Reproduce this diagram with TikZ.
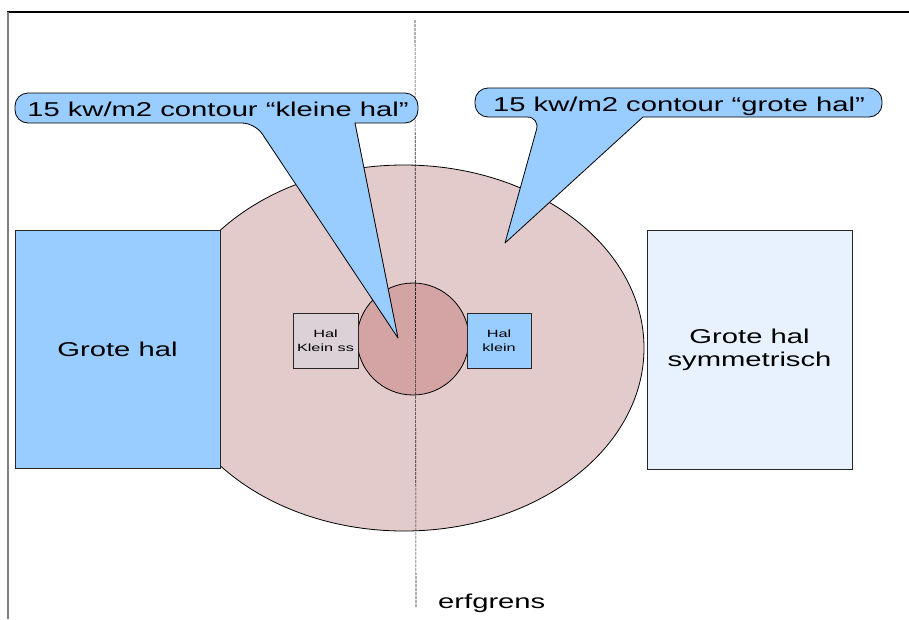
\documentclass[tikz,border=0pt]{standalone}
\usepackage{fontspec}
\setmainfont{Liberation Sans}
\usetikzlibrary{shapes.geometric}
\definecolor{callblue}{HTML}{99CCFF}
\definecolor{zonepink}{HTML}{E3CBCB}
\definecolor{corepink}{HTML}{D4A4A4}
\definecolor{ssgray}{HTML}{DCD1D7}
\definecolor{paleblue}{HTML}{E8F2FE}
\newcommand{\wide}[1]{\scalebox{1.46}[1]{#1}}
\newcommand{\widesm}[1]{\scalebox{1.55}[1]{#1}}
\tikzset{
  hall/.style={draw=black!85, line width=0.9pt, inner sep=0pt, align=center},
  bigtext/.style={font=\fontsize{20}{23}\selectfont, inner sep=0pt, align=center},
  smalltext/.style={font=\fontsize{10.5}{13.5}\selectfont, inner sep=0pt, align=center},
  callout/.style={fill=callblue, draw=black, line width=0.8pt, line join=round},
  boundary/.style={draw=black!85, line width=0.6pt, dash pattern=on 3pt off 1pt},
}
\begin{document}
\begin{tikzpicture}[x=1pt,y=-1pt]
\useasboundingbox (0,0) rectangle (909,619);
% frame
\coordinate (ftl) at (7,12);
\coordinate (ftr) at (909,12);
\coordinate (fbl) at (8,619);
\draw[black, line width=1.3pt] (ftl) -- (ftr);
\draw[black!50, line width=2pt] (8,12) -- (fbl);
% zones
\node[ellipse, fill=zonepink, draw=black, line width=0.8pt, minimum width=480pt, minimum height=366pt, inner sep=0pt] (zone) at (404,348) {};
\node[circle, fill=corepink, draw=black, line width=0.8pt, minimum size=112pt, inner sep=0pt] (core) at (413,339) {};
% small halls
\node[hall, fill=ssgray, minimum width=65pt, minimum height=55pt] (hks) at (325.5,340.5) {};
\node[smalltext] (hkst) at (hks) {\widesm{Hal}\\\widesm{Klein ss}};
\node[hall, fill=callblue, minimum width=64pt, minimum height=55pt] (hk) at (499,340.5) {};
\node[smalltext] (hkt) at (hk) {\widesm{Hal}\\\widesm{klein}};
% big halls
\node[hall, fill=callblue, minimum width=205pt, minimum height=238pt] (gh) at (117.5,349) {};
\node[bigtext] (ght) at (gh) {\wide{Grote hal}};
\node[hall, fill=paleblue, minimum width=205pt, minimum height=239pt] (ghs) at (749.5,349.5) {};
\node[bigtext] (ghst) at (ghs) {\wide{Grote hal}\\\wide{symmetrisch}};
% boundary
\coordinate (btop) at (415,20);
\coordinate (bbot) at (416,607);
\draw[boundary] (btop) -- (bbot);
\node[bigtext, anchor=base west] (erf) at (438,608) {\wide{erfgrens}};
% callout left
\coordinate (tipL) at (398,338);
\draw[callout] (200,93) [rounded corners=13pt] -- (15,93) -- (15,123) -- (255,123) [sharp corners] -- (tipL) -- (355,123) [rounded corners=13pt] -- (418,123) -- (418,93) -- cycle;
\node[bigtext, anchor=base] (cL) at (218,116) {\wide{15 kw/m2 contour “kleine hal”}};
% callout right
\coordinate (tipR) at (505,243);
\draw[callout] (700,88) [rounded corners=13pt] -- (475,88) -- (475,117) -- (540,117) [sharp corners] -- (tipR) -- (643,117) [rounded corners=13pt] -- (882,117) -- (882,88) -- cycle;
\node[bigtext, anchor=base] (cR) at (679,111) {\wide{15 kw/m2 contour “grote hal”}};
\end{tikzpicture}
\end{document}
